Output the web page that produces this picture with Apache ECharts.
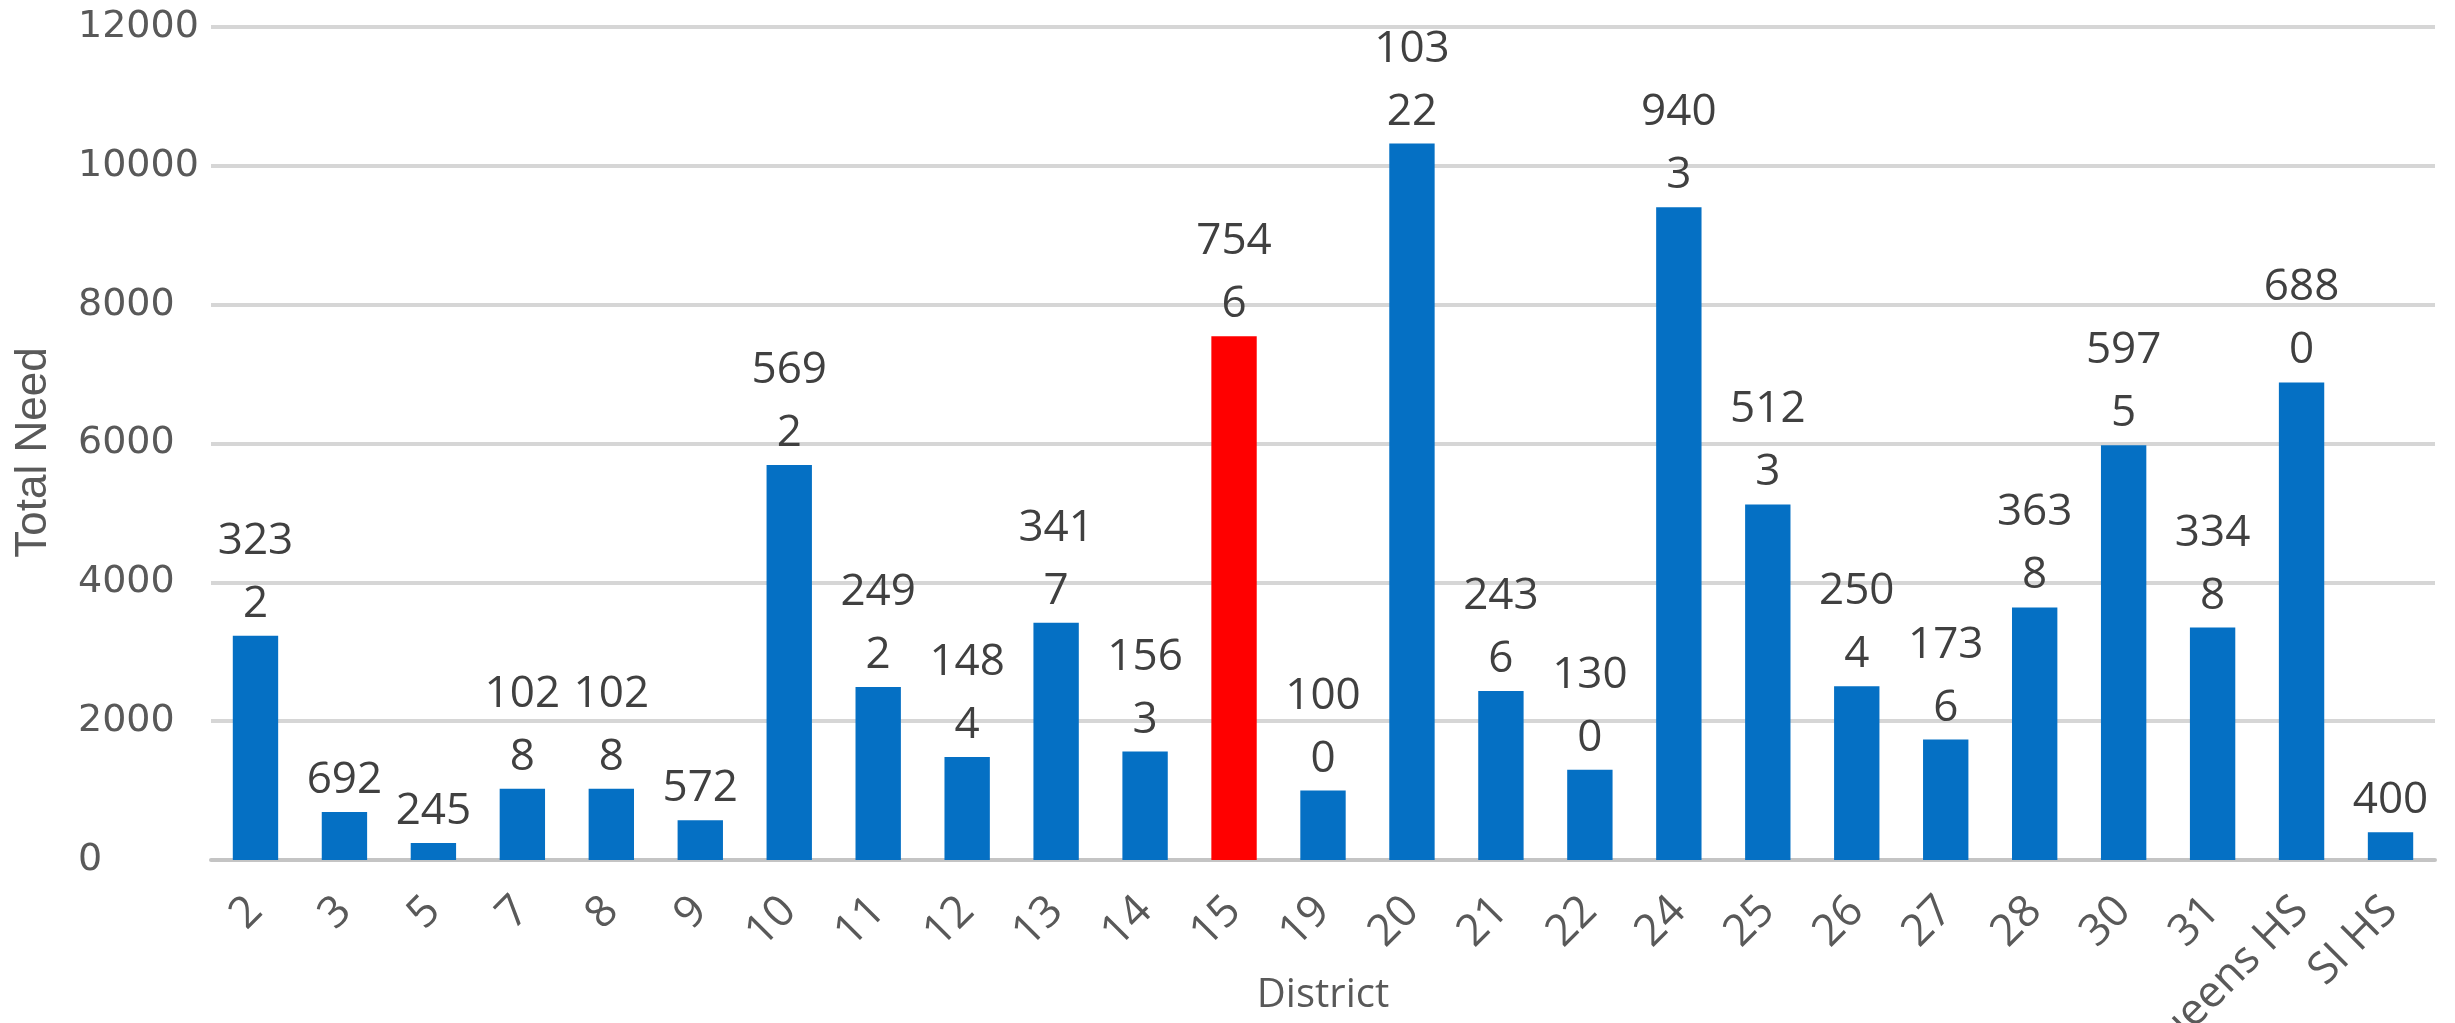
<!DOCTYPE html>
<html>
<head>
<meta charset="utf-8">
<script src="https://cdn.jsdelivr.net/npm/echarts@6/dist/echarts.min.js"></script>
<style>
  html, body { margin: 0; padding: 0; background: #ffffff; }
  #chart { width: 2455px; height: 1023px; }
</style>
</head>
<body>
<div id="chart"></div>
<script>
// District names along the x axis
const districts = ['2', '3', '5', '7', '8', '9', '10', '11', '12', '13', '14', '15', '19', '20',
  '21', '22', '24', '25', '26', '27', '28', '30', '31', 'Queens HS', 'SI HS'];

// Total need per district
const totalNeed = [3232, 692, 245, 1028, 1028, 572, 5692, 2492, 1484, 3417, 1563, 7546, 1000, 10322,
  2436, 1300, 9403, 5123, 2504, 1736, 3638, 5975, 3348, 6880, 400];

// District drawn in red
const highlighted = '15';

// Value-axis ticks
const yTicks = [0, 2000, 4000, 6000, 8000, 10000, 12000];

const BLUE = '#0570c4';
const RED = '#ff0000';

const chart = echarts.init(document.getElementById('chart'), null, { renderer: 'canvas' });

chart.setOption({
  animation: false,
  backgroundColor: '#ffffff',
  grid: { left: 211, right: 20, top: 27, bottom: 163, containLabel: false, outerBoundsMode: 'none' },
  xAxis: {
    type: 'category',
    data: districts,
    name: 'District',
    nameLocation: 'middle',
    nameGap: 116,
    nameMoveOverlap: false,
    nameTextStyle: { fontFamily: 'Open Sans', fontSize: 40, color: '#595959' },
    axisLine: { show: true, lineStyle: { color: '#c4c4c4', width: 4 } },
    axisTick: { show: false },
    axisLabel: {
      interval: 0,
      rotate: 45,
      margin: 44,
      fontFamily: 'Open Sans',
      fontSize: 44,
      color: '#595959'
    }
  },
  yAxis: {
    type: 'value',
    min: yTicks[0],
    max: yTicks[yTicks.length - 1],
    interval: yTicks[1] - yTicks[0],
    name: 'Total Need',
    nameLocation: 'middle',
    nameRotate: 90,
    nameGap: 155,
    nameMoveOverlap: false,
    nameTextStyle: { fontFamily: 'Liberation Sans', fontSize: 44, color: '#595959', padding: [0, 18, 0, 0] },
    axisLine: { show: false },
    axisTick: { show: false },
    splitLine: { lineStyle: { color: '#d6d6d6', width: 4 } },
    axisLabel: {
      align: 'left',
      margin: 133,
      formatter: (v) => String(v),
      fontFamily: 'DejaVu Sans',
      fontSize: 38,
      color: '#595959'
    }
  },
  series: [{
    type: 'bar',
    data: totalNeed.map((v, i) => ({
      value: v,
      itemStyle: { color: districts[i] === highlighted ? RED : BLUE }
    })),
    barCategoryGap: '49%',
    label: {
      show: true,
      position: 'top',
      distance: 0,
      width: 88,
      overflow: 'breakAll',
      lineHeight: 63,
      align: 'center',
      fontFamily: 'Open Sans',
      fontSize: 44,
      color: '#404040'
    }
  }]
});
</script>
</body>
</html>
